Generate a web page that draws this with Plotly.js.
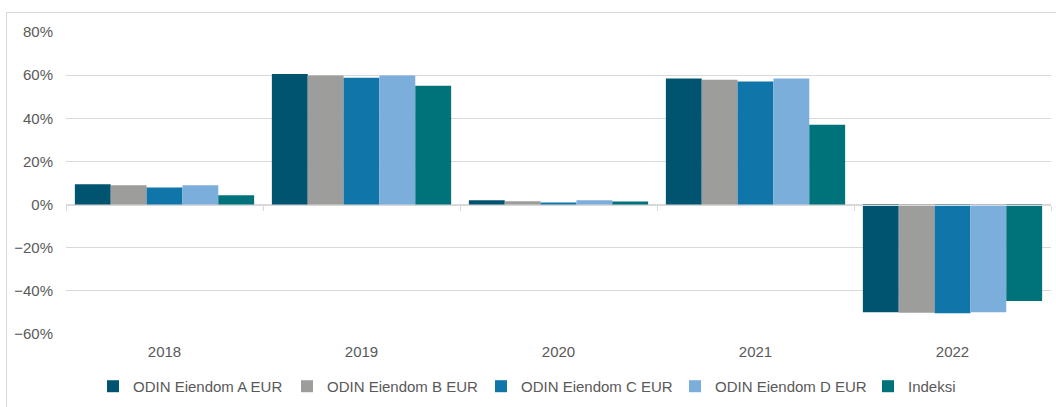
<!DOCTYPE html>
<html>
<head>
<meta charset="utf-8">
<script src="https://cdn.plot.ly/plotly-3.0.1.min.js"></script>
<style>
   body { margin: 0; background: #fff; }
   #frame { position: absolute; left: 6px; top: 12px; width: 1100px; height: 450px;
            border-left: 1px solid #d9d9d9; border-top: 1px solid #d9d9d9; }
   #div_plot { position: absolute; left: 0; top: 0; width: 1056px; height: 407px; }
</style>
</head>
<body>
<div id="frame"></div>
<div id="div_plot"></div>
<script>
var years = ['2018', '2019', '2020', '2021', '2022'];

var eiendom_a = [9.4, 60.5, 2.0, 58.5, -49.9];
var eiendom_b = [8.9, 59.8, 1.5, 57.9, -50.1];
var eiendom_c = [7.9, 58.8, 1.0, 57.1, -50.4];
var eiendom_d = [8.9, 59.8, 2.0, 58.5, -49.9];
var indeksi   = [4.3, 55.1, 1.4, 37.0, -44.7];

var names = ['ODIN Eiendom A EUR', 'ODIN Eiendom B EUR', 'ODIN Eiendom C EUR', 'ODIN Eiendom D EUR', 'Indeksi'];
var colors = ['#005470', '#9d9d9c', '#1075a8', '#7caedc', '#00737a'];
var series = [eiendom_a, eiendom_b, eiendom_c, eiendom_d, indeksi];

var font_color = '#595959';

var data = [];
var legend_ids = ['legend', 'legend2', 'legend3', 'legend4', 'legend5'];

series.forEach((values, i) => {
   data.push({
      x: years,
      y: values,
      name: names[i],
      type: 'bar',
      legend: legend_ids[i],
      marker: { color: colors[i], line: { width: 0 } },
      hovertemplate: names[i] + '<br>%{x}: %{y:.1f}%<extra></extra>'
   });
});

// empty trace so the zero axis (with boundary ticks) gets the categories
data.push({
   x: years,
   y: [null, null, null, null, null],
   xaxis: 'x2',
   type: 'scatter',
   mode: 'markers',
   showlegend: false,
   hoverinfo: 'skip'
});

var layout = {
   width: 1056,
   height: 407,
   margin: { l: 66, r: 5, t: 32, b: 73 },
   paper_bgcolor: 'rgba(0,0,0,0)',
   plot_bgcolor: 'rgba(0,0,0,0)',
   font: { family: 'Liberation Sans, Arial, sans-serif', size: 15, color: font_color },
   barmode: 'group',
   bargap: 0.09,
   bargroupgap: 0,
   showlegend: true,
   xaxis: {
      type: 'category',
      range: [-0.5, 4.5],
      showline: false,
      showgrid: false,
      ticks: '',
      ticklabelstandoff: 7,
      tickfont: { size: 15, color: font_color }
   },
   xaxis2: {
      type: 'category',
      overlaying: 'x',
      anchor: 'free',
      position: 60 / 140,
      range: [-0.5, 4.5],
      showline: true,
      linecolor: '#d9d9d9',
      linewidth: 1,
      showgrid: false,
      ticks: 'outside',
      tickson: 'boundaries',
      ticklen: 5,
      tickcolor: '#d9d9d9',
      showticklabels: false
   },
   yaxis: {
      range: [-60, 80],
      dtick: 20,
      ticksuffix: '%',
      showgrid: true,
      gridcolor: '#d9d9d9',
      gridwidth: 1,
      zeroline: true,
      zerolinecolor: '#d9d9d9',
      zerolinewidth: 1,
      showline: false,
      ticklabelstandoff: 12,
      tickfont: { size: 15, color: font_color }
   }
};

// one single-entry legend per series, laid out in a row below the axis
var legend_left = [93, 287, 481, 675, 868];
legend_ids.forEach((id, i) => {
   layout[id] = {
      orientation: 'h',
      xref: 'container',
      yref: 'container',
      x: legend_left[i] / 1056,
      xanchor: 'left',
      y: 0.091,
      yanchor: 'top',
      itemwidth: 30,
      bgcolor: 'rgba(0,0,0,0)',
      font: { size: 15, color: font_color }
   };
});

var config = {
   responsive: false,
   displayModeBar: false
};

Plotly.newPlot('div_plot', data, layout, config);
</script>
</body>
</html>
